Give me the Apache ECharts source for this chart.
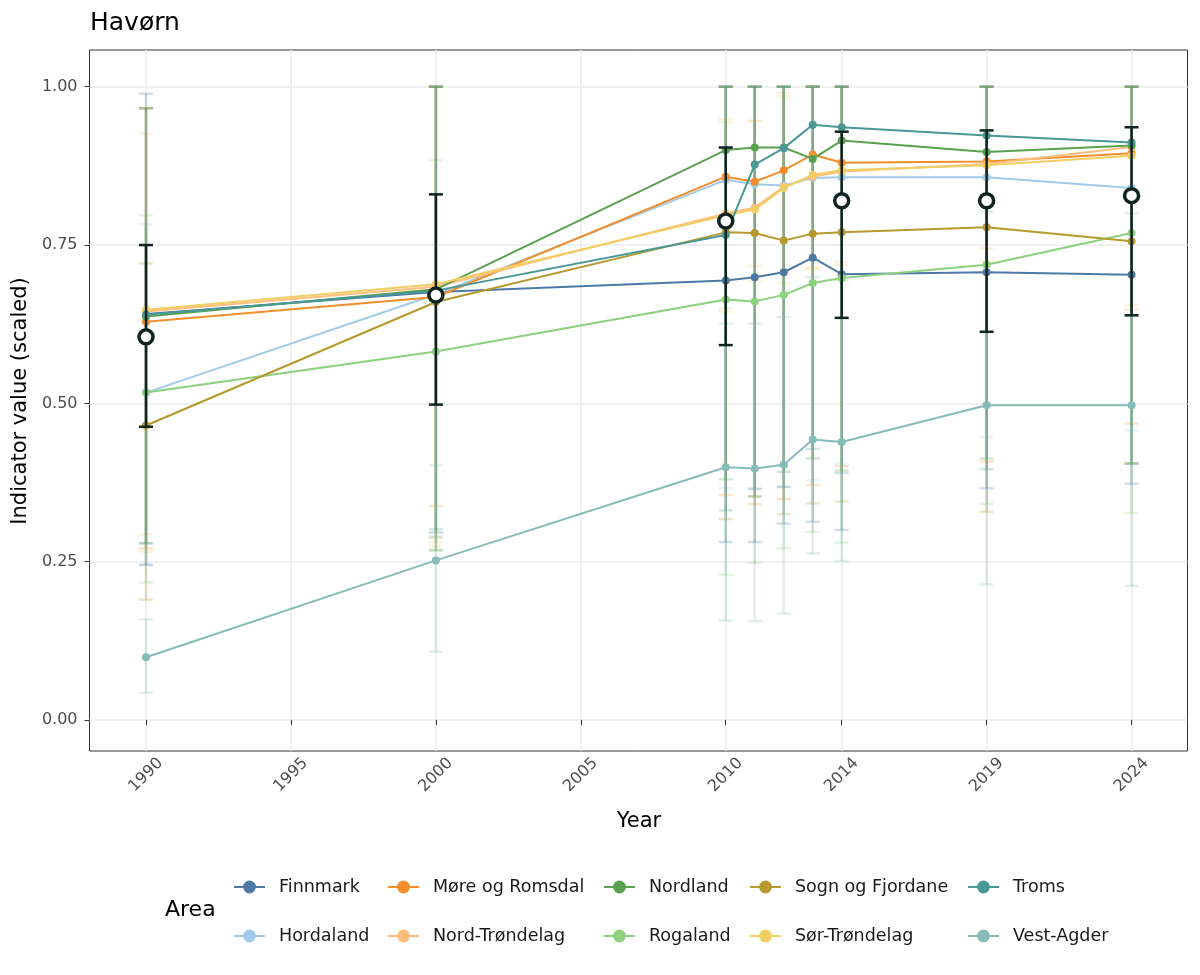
<!DOCTYPE html>
<html>
<head>
<meta charset="utf-8">
<script src="https://cdn.jsdelivr.net/npm/echarts@6/dist/echarts.min.js"></script>
<style>html,body{margin:0;padding:0;background:#fff}#c{width:1200px;height:975px}</style>
</head>
<body>
<div id="c"></div>
<script>
// ---------- data ----------
const years = [1990, 2000, 2010, 2011, 2012, 2013, 2014, 2019, 2024];
const xTicks = [1990, 1995, 2000, 2005, 2010, 2014, 2019, 2024];
const yTicks = [0, 0.25, 0.5, 0.75, 1];

const areas = ['Finnmark', 'Hordaland', 'Møre og Romsdal', 'Nord-Trøndelag', 'Nordland',
               'Rogaland', 'Sogn og Fjordane', 'Sør-Trøndelag', 'Troms', 'Vest-Agder'];
const areaColors = ['#4E79A7', '#A0CBE8', '#F28E2B', '#FFBE7D', '#59A14F',
                    '#8CD17D', '#B6992D', '#F1CE63', '#499894', '#86BCB6'];

const finnmarkVal = [0.641, 0.676, 0.694, 0.699, 0.707, 0.730, 0.704, 0.707, 0.703];
const finnmarkLo  = [0.245, 0.296, 0.281, 0.281, 0.310, 0.313, 0.300, 0.366, 0.373];
const finnmarkHi  = [0.989, 1, 1, 1, 1, 1, 1, 1, 1];

const hordalandVal = [0.517, 0.672, 0.853, 0.846, 0.844, 0.856, 0.857, 0.857, 0.840];
const hordalandLo  = [0.245, 0.290, 0.366, 0.365, 0.368, 0.378, 0.404, 0.447, 0.457];
const hordalandHi  = [0.783, 1, 1, 1, 1, 1, 1, 1, 1];

const moreVal = [0.629, 0.668, 0.858, 0.850, 0.868, 0.893, 0.880, 0.882, 0.895];
const moreLo  = [0.271, 0.338, 0.355, 0.341, 0.349, 0.371, 0.401, 0.408, 0.468];
const moreHi  = [0.966, 1, 1, 1, 1, 1, 1, 1, 1];

const nordTrVal = [0.645, 0.684, 0.800, 0.809, 0.842, 0.858, 0.866, 0.878, 0.905];
const nordTrLo  = [0.293, 0.281, 0.650, 0.717, 0.706, 0.715, 0.723, 0.745, 0.648];
const nordTrHi  = [0.926, 1, 0.949, 0.946, 0.990, 1, 1, 1, 1];

const nordlandVal = [0.637, 0.680, 0.900, 0.904, 0.904, 0.886, 0.915, 0.897, 0.907];
const nordlandLo  = [0.279, 0.268, 0.380, 0.353, 0.392, 0.413, 0.394, 0.413, 0.405];
const nordlandHi  = [0.966, 1, 1, 1, 1, 1, 1, 1, 1];

const rogalandVal = [0.517, 0.582, 0.664, 0.661, 0.671, 0.690, 0.698, 0.719, 0.769];
const rogalandLo  = [0.217, 0.268, 0.229, 0.248, 0.271, 0.297, 0.280, 0.341, 0.327];
const rogalandHi  = [0.797, 0.884, 1, 1, 1, 1, 1, 1, 1];

const sognVal = [0.465, 0.660, 0.770, 0.769, 0.757, 0.768, 0.770, 0.778, 0.756];
const sognLo  = [0.190, 0.288, 0.317, 0.353, 0.325, 0.342, 0.345, 0.329, 0.405];
const sognHi  = [0.721, 1, 1, 1, 1, 1, 1, 1, 1];

const sorTrVal = [0.648, 0.688, 0.797, 0.806, 0.840, 0.861, 0.868, 0.876, 0.891];
const sorTrLo  = [0.266, 0.274, 0.645, 0.694, 0.690, 0.712, 0.718, 0.725, 0.655];
const sorTrHi  = [0.966, 1, 0.944, 0.946, 0.985, 1, 1, 1, 1];

const tromsVal = [0.640, 0.678, 0.766, 0.877, 0.903, 0.940, 0.936, 0.923, 0.912];
const tromsLo  = [0.279, 0.301, 0.331, 0.365, 0.368, 0.428, 0.390, 0.396, 0.405];
const tromsHi  = [0.966, 1, 1, 1, 1, 1, 1, 1, 1];

const vestAgderVal = [0.099, 0.252, 0.399, 0.397, 0.403, 0.443, 0.439, 0.497, 0.497];
const vestAgderLo  = [0.043, 0.108, 0.157, 0.156, 0.168, 0.263, 0.251, 0.214, 0.212];
const vestAgderHi  = [0.159, 0.402, 0.626, 0.626, 0.636, 0.699, 0.694, 0.803, 0.800];

const meanYears = [1990, 2000, 2010, 2014, 2019, 2024];
const meanVal = [0.605, 0.671, 0.788, 0.820, 0.820, 0.828];
const meanLo  = [0.463, 0.498, 0.592, 0.635, 0.613, 0.639];
const meanHi  = [0.750, 0.830, 0.904, 0.929, 0.931, 0.936];

const areaVals = [finnmarkVal, hordalandVal, moreVal, nordTrVal, nordlandVal, rogalandVal, sognVal, sorTrVal, tromsVal, vestAgderVal];
const areaLos  = [finnmarkLo, hordalandLo, moreLo, nordTrLo, nordlandLo, rogalandLo, sognLo, sorTrLo, tromsLo, vestAgderLo];
const areaHis  = [finnmarkHi, hordalandHi, moreHi, nordTrHi, nordlandHi, rogalandHi, sognHi, sorTrHi, tromsHi, vestAgderHi];

// stacking order of the faint per-area error bars (bottom first)
const errorBarOrder = ['Sør-Trøndelag', 'Nord-Trøndelag', 'Sogn og Fjordane', 'Møre og Romsdal', 'Hordaland',
                       'Rogaland', 'Finnmark', 'Troms', 'Nordland', 'Vest-Agder'];

// ---------- chart ----------
const FONT = 'DejaVu Sans';
const DARK = '#0F2420';

function errorBarRenderer(color, opacity, lw, capHalf) {
  return function (params, api) {
    const x = api.value(0), lo = api.value(1), hi = api.value(2);
    const a = api.coord([x, lo]);
    const b = api.coord([x, hi]);
    const st = { stroke: color, lineWidth: lw, opacity: opacity, fill: null };
    return {
      type: 'group',
      children: [
        { type: 'line', shape: { x1: a[0], y1: a[1], x2: b[0], y2: b[1] }, style: st },
        { type: 'line', shape: { x1: a[0] - capHalf, y1: a[1], x2: a[0] + capHalf, y2: a[1] }, style: st },
        { type: 'line', shape: { x1: b[0] - capHalf, y1: b[1], x2: b[0] + capHalf, y2: b[1] }, style: st }
      ]
    };
  };
}

const series = [];
errorBarOrder.forEach(name => {
  const i = areas.indexOf(name);
  series.push({
    name: name + ' (CI)',
    type: 'custom',
    z: 1,
    silent: true,
    renderItem: errorBarRenderer(areaColors[i], 0.25, 2.5, 7),
    data: years.map((y, k) => [y, areaLos[i][k], areaHis[i][k]]),
    encode: { x: 0, y: [1, 2] }
  });
});
areas.forEach((name, i) => {
  series.push({
    name: name,
    type: 'line',
    z: 2,
    color: areaColors[i],
    symbol: 'circle',
    symbolSize: 8,
    showSymbol: true,
    lineStyle: { width: 2, color: areaColors[i] },
    itemStyle: { color: areaColors[i] },
    emphasis: { disabled: true },
    data: years.map((y, k) => [y, areaVals[i][k]])
  });
});
series.push({
  name: 'mean (CI)',
  type: 'custom',
  z: 3,
  silent: true,
  renderItem: errorBarRenderer(DARK, 1, 2.5, 7),
  data: meanYears.map((y, k) => [y, meanLo[k], meanHi[k]]),
  encode: { x: 0, y: [1, 2] }
});
series.push({
  name: 'mean',
  type: 'scatter',
  z: 4,
  symbol: 'circle',
  symbolSize: 14,
  itemStyle: { color: '#ffffff', borderColor: DARK, borderWidth: 3.5, opacity: 1 },
  emphasis: { disabled: true },
  data: meanYears.map((y, k) => [y, meanVal[k]])
});

const legendCols = [['Finnmark', 'Hordaland'], ['Møre og Romsdal', 'Nord-Trøndelag'],
                    ['Nordland', 'Rogaland'], ['Sogn og Fjordane', 'Sør-Trøndelag'], ['Troms', 'Vest-Agder']];
const legendLefts = [233, 387, 603, 749, 967];
const legends = legendCols.map((col, j) => ({
  orient: 'vertical',
  left: legendLefts[j],
  top: 878,
  itemWidth: 31,
  itemHeight: 16,
  itemGap: 31,
  padding: 0,
  selectedMode: false,
  data: col,
  textStyle: { fontFamily: FONT, fontSize: 17.5, color: '#1a1a1a', padding: [0, 0, 0, 9], lineHeight: 16 }
}));

const chart = echarts.init(document.getElementById('c'), null, { renderer: 'canvas' });
chart.setOption({
  animation: false,
  backgroundColor: '#ffffff',
  textStyle: { fontFamily: FONT },
  grid: { left: 89.5, right: 12.5, top: 50, bottom: 224, containLabel: false,
          show: true, borderColor: '#333333', borderWidth: 1, backgroundColor: 'transparent' },
  xAxis: {
    type: 'value',
    min: 1988.05,
    max: 2025.93,
    axisLine: { show: false },
    axisTick: { show: true, length: 5, lineStyle: { color: '#333333', width: 1 }, customValues: xTicks },
    axisLabel: { customValues: xTicks, rotate: 45, align: 'center', verticalAlign: 'middle', margin: 24,
                 fontFamily: FONT, fontSize: 16, color: '#4D4D4D', formatter: v => String(v) },
    splitLine: { show: true, lineStyle: { color: '#EBEBEB', width: 1.5 } }
  },
  yAxis: {
    type: 'value',
    min: -0.049,
    max: 1.058,
    axisLine: { show: false },
    axisTick: { show: true, length: 5, lineStyle: { color: '#333333', width: 1 }, customValues: yTicks },
    axisLabel: { customValues: yTicks, margin: 12, fontFamily: FONT, fontSize: 16, color: '#4D4D4D',
                 formatter: v => v.toFixed(2) },
    splitLine: { show: true, lineStyle: { color: '#EBEBEB', width: 1.5 } }
  },
  legend: legends,
  graphic: [
    { type: 'text', left: 90, top: 11, style: { text: 'Havørn', fontFamily: FONT, fontSize: 25, fill: '#000' } },
    { type: 'text', x: 639, y: 822, style: { text: 'Year', fontFamily: FONT, fontSize: 21, fill: '#000', align: 'center', verticalAlign: 'middle' } },
    { type: 'text', x: 21, y: 401, rotation: Math.PI / 2, style: { text: 'Indicator value (scaled)', fontFamily: FONT, fontSize: 21, fill: '#000', align: 'center', verticalAlign: 'middle' } },
    { type: 'text', x: 165, y: 910, style: { text: 'Area', fontFamily: FONT, fontSize: 22, fill: '#000', align: 'left', verticalAlign: 'middle' } }
  ],
  series: series
});
</script>
</body>
</html>
